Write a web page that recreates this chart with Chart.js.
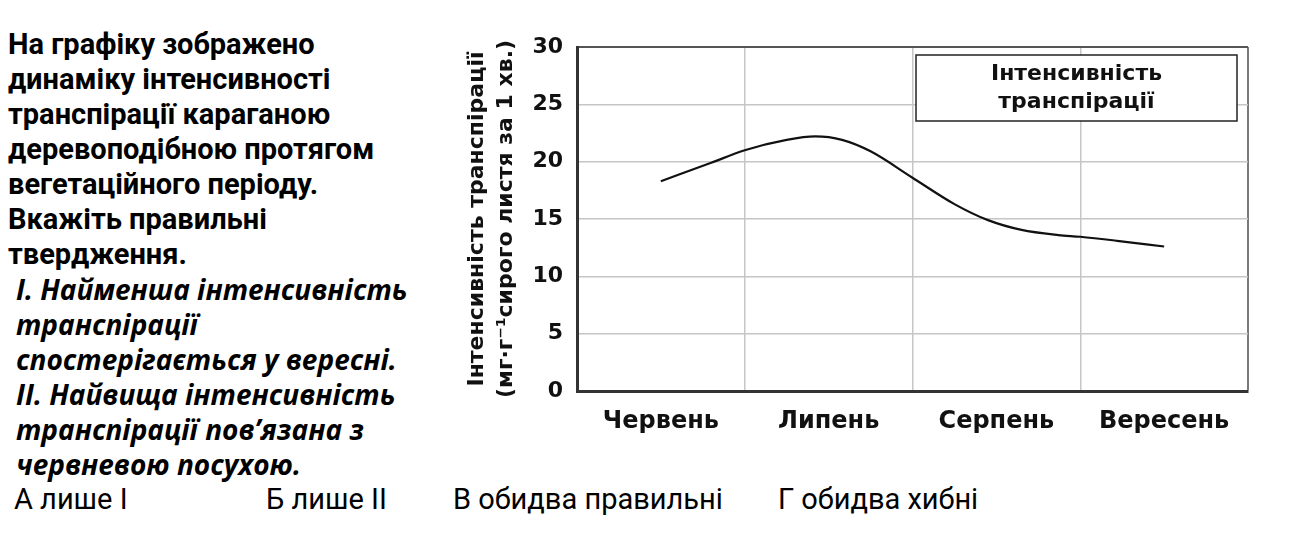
<!DOCTYPE html>
<html>
<head>
<meta charset="utf-8">
<title>Інтенсивність транспірації</title>
<script src="https://cdn.jsdelivr.net/npm/chart.js"></script>
<style>
  body {
    margin: 0;
    width: 1294px;
    height: 535px;
    background: #ffffff;
    position: relative;
    overflow: hidden;
    color: #000;
  }
  .question {
    position: absolute;
    left: 8px;
    top: 27px;
    font-family: Roboto, sans-serif;
    font-weight: 700;
    font-size: 29px;
    line-height: 35px;
    white-space: nowrap;
  }
  .question .statement {
    font-family: 'Open Sans', sans-serif;
    font-style: italic;
    font-size: 28px;
    padding-left: 8px;
  }
  .answers {
    position: absolute;
    left: 0;
    top: 482px;
    width: 1294px;
    height: 35px;
    font-family: Roboto, sans-serif;
    font-weight: 400;
    font-size: 29px;
    line-height: 35px;
  }
  .answers span {
    position: absolute;
    white-space: nowrap;
  }
  .chart-box {
    position: absolute;
    left: 440px;
    top: 0;
    width: 854px;
    height: 460px;
  }
</style>
</head>
<body>
<div class="question">
  <div>На графіку зображено</div>
  <div>динаміку інтенсивності</div>
  <div>транспірації караганою</div>
  <div>деревоподібною протягом</div>
  <div>вегетаційного періоду.</div>
  <div>Вкажіть правильні</div>
  <div>твердження.</div>
  <div class="statement">I. Найменша інтенсивність</div>
  <div class="statement">транспірації</div>
  <div class="statement">спостерігається у вересні.</div>
  <div class="statement">II. Найвища інтенсивність</div>
  <div class="statement">транспірації пов’язана з</div>
  <div class="statement">червневою посухою.</div>
</div>
<div class="answers">
  <span style="left:14px">А лише I</span>
  <span style="left:266px">Б лише II</span>
  <span style="left:453px">В обидва правильні</span>
  <span style="left:778px">Г обидва хибні</span>
</div>
<div class="chart-box">
  <canvas id="chart" width="854" height="460"></canvas>
</div>

<script>
// months along the x axis, one unit per month
const months = ['Червень', 'Липень', 'Серпень', 'Вересень'];

// curve: position in months, value in mg per g per minute
const monthPos = [0.5, 0.8, 1.0, 1.25, 1.42, 1.58, 1.75, 2.0, 2.25, 2.45, 2.65, 2.87, 3.0, 3.22, 3.5];
const intensity = [18.3, 19.9, 21.0, 21.9, 22.2, 21.9, 20.9, 18.6, 16.3, 14.9, 14.05, 13.6, 13.45, 13.1, 12.6];

const yTicks = [0, 5, 10, 15, 20, 25, 30];
const seriesLabel = 'Інтенсивність транспірації';
const yTitle = ['Інтенсивність транспірації', '(мг·г⁻¹сирого листя за 1 хв.)'];

Chart.defaults.font.family = '"DejaVu Sans", sans-serif';
Chart.defaults.color = '#111';

// legend drawn as a plain framed box inside the plot, upper right
const legendBox = {
  id: 'legendBox',
  afterDraw(chart) {
    const { ctx, chartArea } = chart;
    const w = 321, h = 66;
    const x = chartArea.right - 11 - w;
    const y = chartArea.top + 8;
    ctx.save();
    ctx.fillStyle = '#fff';
    ctx.fillRect(x, y, w, h);
    ctx.strokeStyle = '#222';
    ctx.lineWidth = 1.5;
    ctx.strokeRect(x, y, w, h);
    ctx.fillStyle = '#111';
    ctx.font = 'bold 22px "DejaVu Sans"';
    ctx.textAlign = 'center';
    ctx.textBaseline = 'middle';
    chart.data.datasets[0].label.split(' ').forEach((t, i) => {
      ctx.fillText(t, x + w / 2, y + 19 + i * 28);
    });
    ctx.restore();
  }
};

const ctx = document.getElementById('chart').getContext('2d');
const chart = new Chart(ctx, {
  type: 'line',
  data: {
    datasets: [{
      label: seriesLabel,
      data: monthPos.map((m, i) => ({ x: m, y: intensity[i] })),
      borderColor: '#111',
      borderWidth: 2.2,
      pointRadius: 0,
      cubicInterpolationMode: 'monotone',
      fill: false
    }]
  },
  options: {
    responsive: false,
    animation: false,
    layout: { padding: { left: 0, top: 47, right: 46, bottom: 0 } },
    plugins: {
      legend: { display: false },
      tooltip: { enabled: false }
    },
    scales: {
      x: {
        type: 'linear',
        min: 0,
        max: months.length,
        afterBuildTicks: (scale) => {
          const ticks = [];
          for (let v = 0; v <= months.length; v += 0.5) ticks.push({ value: v });
          scale.ticks = ticks;
        },
        afterFit: (scale) => { scale.height = 69; },
        border: { color: '#333', width: 3 },
        grid: {
          drawTicks: false,
          color: (c) => {
            const v = c.tick.value;
            if (!Number.isInteger(v)) return 'rgba(0,0,0,0)';
            return v === months.length ? '#7a7a7a' : '#c6c6c6';
          },
          lineWidth: (c) => c.tick.value === months.length ? 2 : 1.5
        },
        ticks: {
          autoSkip: false,
          maxRotation: 0,
          padding: 16,
          color: '#111',
          font: { size: 24, weight: 'bold' },
          callback: (v) => Number.isInteger(v) ? '' : months[Math.floor(v)]
        }
      },
      y: {
        min: 0,
        max: 30,
        afterBuildTicks: (scale) => { scale.ticks = yTicks.map(v => ({ value: v })); },
        afterFit: (scale) => { scale.width = 137; },
        border: { color: '#333', width: 3 },
        grid: {
          drawTicks: false,
          color: (c) => c.tick.value === 30 ? '#555' : '#c6c6c6',
          lineWidth: (c) => c.tick.value === 30 ? 2 : 1.5
        },
        ticks: {
          padding: 14,
          color: '#111',
          font: { size: 22, weight: 'bold' }
        },
        title: {
          display: true,
          text: yTitle,
          color: '#111',
          padding: { top: 23, bottom: 0 },
          font: { size: 22, weight: 'bold', lineHeight: 1.32 }
        }
      }
    }
  },
  plugins: [legendBox]
});
</script>
</body>
</html>
